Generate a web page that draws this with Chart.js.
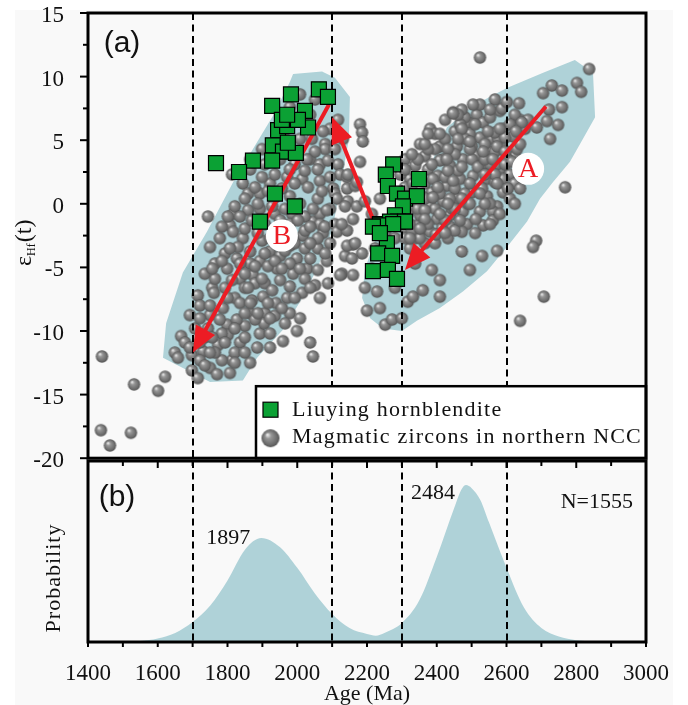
<!DOCTYPE html>
<html>
<head>
<meta charset="utf-8">
<script src="https://cdn.jsdelivr.net/npm/chart.js@4.4.1/dist/chart.umd.min.js"></script>
<style>
  html, body { margin: 0; padding: 0; background: #fff; }
  #wrap { position: relative; width: 688px; height: 705px; overflow: hidden; }
  #paper { position: absolute; left: 15px; top: 10px; width: 658px; height: 695px; background: #f9f9f9; }
  canvas { position: absolute; left: 0; }
  #top { top: 0; }
  #bot { top: 455px; }
</style>
</head>
<body>
<div id="wrap">
  <div id="paper"></div>
  <canvas id="top" width="688" height="470"></canvas>
  <canvas id="bot" width="688" height="250"></canvas>
</div>
<script>
// ── Datos ─────────────────────────────────────────────────────────────────────
const ageTicks = [1400, 1600, 1800, 2000, 2200, 2400, 2600, 2800, 3000];
const epsTicks = [-20, -15, -10, -5, 0, 5, 10, 15];
const guideAges = [1700, 2100, 2300, 2600];

// Liuying hornblendite [age, eHf(t)]
const hornblendite = [
  [2062,9.0],[2088,8.4],[1982,8.6],[1928,7.7],[2022,7.3],[2031,6.0],[1945,5.8],[1971,6.1],[1956,6.6],[2002,6.6],
  [1930,4.6],[1959,4.1],[1996,4.0],[1973,4.8],[1928,3.4],[1873,3.4],[1833,2.5],[1767,3.2],[1936,0.8],[1993,-0.2],
  [1893,-1.4],[1971,7.0],
  [2275,3.1],[2254,2.3],[2349,1.95],[2260,1.4],[2286,0.8],[2309,0.4],[2343,0.6],[2303,-0.2],[2280,-0.9],[2289,-1.4],
  [2237,-1.6],[2266,-1.4],[2309,-1.4],[2237,-1.7],[2275,-1.6],[2257,-3.1],[2232,-3.9],[2272,-4.1],[2217,-5.3],[2260,-5.2],
  [2286,-5.9],[2217,-1.8],[2237,-2.3]
];

// Magmatic zircons in northern NCC [age, eHf(t)]
const zircons = [
  [1440,-12.0],[1532,-14.2],[1601,-14.7],[1621,-13.6],[1437,-17.8],[1523,-18.0],[1463,-19.0],
  [1649,-11.7],[1658,-12.1],[1667,-10.4],
  [1750,-3.4],[1756,-6.6],[1807,-1.7],[1816,-2.2],[1844,-2.7],[1865,-3.75],[1827,-4.3],[1799,-5.1],[1836,-5.9],[1873,-5.6],
  [1893,-4.5],[1922,-3.75],[1951,-4.1],[1979,-3.3],[2016,-2.5],[2045,-1.4],[2074,-2.3],[2085,-4.5],[2028,-5.1],[1999,-4.3],[1942,-3.0],
  [1698,-11.9],[1698,-13.1],[1750,-12.9],[1770,-13.4],[1813,-12.3],[1885,-11.3],[1850,-9.6],[1959,-10.8],[1999,-10.0],[2037,-10.9],
  [2045,-12.0],[1936,-8.8],[1971,-7.4],[2014,-7.0],[2051,-6.4],[1988,-5.5],[1951,-6.0],[1942,-5.1],[1902,-7.3],[1870,-7.6],
  [1715,-7.2],[1721,-8.0],[1692,-8.75],[1750,-8.75],[1787,-8.2],[1799,-9.5],[1827,-9.1],[1744,-9.8],[1801,-10.3],[1773,-11.1],
  [1730,-11.6],[1784,-12.3],[1721,-12.3],[1750,-8.0],
  [1764,-5.9],[1793,-6.6],[1821,-7.4],[1850,-6.6],[1879,-6.25],[1907,-6.25],[1916,-4.9],[1865,-4.7],[1793,-3.9],[1899,-2.9],
  [1965,-2.1],[1993,-3.1],[2059,-3.5],[2094,-3.1],[1764,-4.7],[1735,-5.5],[1707,-9.8],[1678,-10.9],[1836,-10.9],[1893,-10.2],
  [1907,-8.6],[1865,-8.6],[1836,-7.8],[1778,-2.7],[1784,-1.8],[1816,-0.8],[1744,-1.0],
  [1813,2.3],[1844,1.6],[1893,0.8],[1936,0.5],[1979,0.6],[2059,0.4],[1821,-0.2],[1859,-0.5],[1801,-1.0],[1985,-0.8],
  [2022,-1.0],[2065,-0.8],[2059,-2.7],[2022,-3.5],[1965,-3.7],[1907,-3.9],[1830,-3.4],[1784,-4.5],[1756,-5.1],[1813,-6.0],
  [1859,-6.6],[1928,-6.8],[1979,-6.5],[2022,-5.9],[2059,-5.2],[1801,-7.4],[1761,-7.0],[1865,-7.8],[1939,-7.8],[1979,-8.6],
  [1905,-9.4],[1850,-10.5],[1778,-9.1],[1721,-9.0],[1735,-10.5],[1692,-11.3],[1764,-11.7],[1821,-11.7],[1865,-12.5],[1807,-13.3],
  [1715,-13.7],[1735,-12.7],[1922,-11.3],[1922,-10.2],[1879,-9.1],
  [1850,-1.95],[1887,-2.3],[1922,-2.7],[1985,-2.6],[2037,-3.1],[2080,-3.9],[2037,-4.3],[1979,-4.7],[1936,-4.5],[1879,-4.9],
  [1836,-4.7],[1807,-3.5],[1850,-5.5],[1899,-5.9],[1956,-5.1],[2008,-5.1],[2037,-6.6],[1993,-7.4],[1956,-8.2],[1916,-7.8],
  [1887,-8.6],[1850,-8.6],[1821,-9.8],[1784,-10.2],[1756,-10.5],[1721,-10.9],[1750,-11.7],[1793,-10.9],[1850,-11.7],[1821,-12.5],
  [2008,-9.0],[1965,-9.4],[1922,-9.0],[2065,-7.4],[2088,-6.25],
  [1907,3.1],[1951,3.5],[1993,3.1],[2037,3.5],[2080,4.7],[2117,3.1],[2103,1.2],[2065,1.8],[2014,1.95],[1971,2.1],
  [1922,1.6],[1859,0.8],[1893,-0.4],[1936,-0.8],[1979,-1.6],[2022,-2.1],[2065,-1.6],[2094,-0.4],
  [1899,4.3],[1865,3.5],[1979,4.3],[2042,5.1],[2080,4.3],[2065,3.1],[2094,5.9],[2008,8.6],[2051,8.2],
  [1979,7.6],[2008,6.6],[2037,7.0],[1965,5.1],[2008,5.1],[2074,5.7],[2051,4.1],[2028,3.5],[2088,3.4],[2108,4.3],
  [2117,6.6],[2131,5.1],[2123,2.3],
  [1865,2.7],[1899,2.1],[1936,2.3],[1979,2.7],[2022,2.6],[2059,2.7],[2094,2.1],[1879,1.3],[1916,1.0],[1956,1.2],
  [1993,1.6],[2031,1.3],[2071,1.0],[2108,0.8],[1850,0.4],[1887,0.0],[1928,-0.2],[1965,-0.4],[2008,0.0],[2045,-0.4],
  [2085,-0.5],[1836,-1.0],[1870,-1.3],[1907,-1.6],[1951,-1.3],[2002,-1.3],[2037,-1.8],[2079,-1.8],[2108,-1.6],
  [2180,6.25],[2186,5.6],[2188,4.9],[2180,3.3],[2143,2.1],[2143,1.2],[2166,1.4],[2145,0.2],[2171,-0.2],[2194,0.2],
  [2114,0.4],[2137,-0.2],[2160,-1.2],[2114,-2.2],[2143,-2.1],[2160,-3.2],[2137,-4.1],[2186,-3.9],[2128,-5.5],[2160,-5.6],
  [2194,-6.6],[2229,-6.9],[2200,-8.4],[2237,-8.2],[2252,-9.5],[2272,-9.1],[2300,-9.0],[2317,-7.7],[2332,-7.3],[2360,-6.8],
  [2409,-7.3],[2386,-5.2],[2409,-6.0],[2495,-5.2],[2472,-3.75],[2530,-4.1],[2338,-4.7],[2438,-1.8],[2360,-2.0],[2145,2.3],
  [2171,1.7],[2128,-1.6],[2143,-3.3],[2166,-3.1],[2157,-4.3],[2123,-5.6],
  [2237,0.4],[2214,-0.8],[2252,-2.3],[2223,-3.5],[2280,-2.7],[2309,0.8],[2323,-0.4],[2309,-1.95],[2323,-3.5],[2214,-5.1],[2280,-6.6],
  [2447,7.2],[2515,7.0],[2490,6.4],[2533,6.4],[2581,7.3],[2590,5.9],[2558,5.1],[2524,5.2],[2501,4.5],[2458,4.5],
  [2452,5.7],[2409,4.5],[2418,3.5],[2366,3.75],[2338,3.0],[2375,2.7],[2403,2.2],[2438,3.0],[2475,3.5],[2515,3.75],
  [2553,4.1],[2590,4.3],[2619,5.3],[2624,3.75],[2581,2.7],[2544,1.95],[2504,2.2],[2467,1.95],[2429,1.4],[2386,0.9],
  [2358,0.6],[2381,-0.2],[2418,0.2],[2458,0.4],[2501,0.9],[2544,0.6],[2590,0.9],[2573,-0.2],[2524,-0.6],[2475,-0.6],
  [2438,-0.9],[2401,-1.2],[2360,-1.4],[2487,-1.6],[2533,-1.7],[2343,-1.7],[2352,-0.9],[2381,-2.2],[2415,-1.95],[2472,-2.2],
  [2561,-0.6],[2481,6.8],[2553,6.8],[2495,5.5],[2424,5.1],[2395,4.3],[2481,5.1],[2538,4.7],[2573,3.1],[2610,2.3],
  [2452,1.2],[2409,0.8],[2366,1.6],[2323,1.95],[2329,0.4],[2317,-0.8],[2338,-2.7],[2366,-3.1],[2395,-3.1],[2432,-2.7],
  [2576,5.1],[2567,4.1],[2630,4.3],[2590,1.95],[2567,1.7],[2561,-1.3],[2587,7.5],[2639,6.6],[2653,5.9],[2604,3.5],
  [2501,3.5],[2461,2.6],[2424,2.1],[2538,3.1],[2567,5.6],[2467,6.25],[2381,5.9],
  [2309,-2.7],[2329,-2.1],[2352,-2.7],[2375,-1.6],[2398,-2.4],[2424,-1.3],[2452,-2.1],[2444,-0.4],[2490,0.0],[2512,-1.2],
  [2553,0.0],[2610,0.4],[2624,1.6],[2596,3.1],[2639,4.7],[2662,6.6],[2624,7.0],[2567,8.2],[2524,7.8],[2472,7.4],
  [2424,6.6],[2395,5.5],[2352,4.7],[2309,3.5],[2295,2.3],[2309,1.3],[2346,1.2],[2389,1.95],[2432,2.6],[2472,2.9],
  [2518,2.9],[2553,3.1],[2567,2.3],[2530,1.2],[2481,0.8],[2438,0.4],[2395,-0.4],[2346,-0.4],[2323,-1.6],[2366,-0.5],
  [2495,4.3],[2452,3.9],[2409,3.4],[2375,4.3],[2432,4.3],[2472,5.9],[2510,6.25],[2547,5.7],[2596,5.2],[2610,6.25],
  [2573,4.5],[2538,3.5],
  [2346,3.5],[2386,3.1],[2429,3.5],[2461,5.1],[2495,4.9],[2533,4.1],[2561,3.5],[2596,4.1],[2616,3.3],[2644,2.7],
  [2624,0.0],[2639,1.2],[2332,1.6],[2366,0.4],[2403,1.3],[2447,1.8],[2495,1.6],[2538,2.3],[2573,1.6],[2604,1.2],
  [2495,0.0],[2538,0.0],[2452,-0.4],[2409,-0.8],[2366,-1.2],[2323,-2.7],[2352,-1.95],[2424,-2.3],[2467,-1.3],[2510,-2.3],
  [2553,-1.6],[2581,-0.8],[2524,0.8],[2472,0.4],[2432,0.0],[2389,0.5],[2581,5.9],[2553,7.4],[2504,7.8],[2461,7.0],
  [2409,5.5],[2366,4.7],[2329,3.9],[2309,2.7],
  [2837,10.6],[2802,9.5],[2814,8.8],[2730,9.3],[2759,8.9],[2705,8.7],[2759,7.6],[2722,7.4],[2748,6.2],[2716,6.5],
  [2725,5.1],[2687,6.0],[2636,7.9],[2601,8.0],[2644,6.4],[2627,5.7],[2768,1.3],[2685,-2.9],[2676,-3.4],[2707,-7.3],
  [2639,-9.2],[2573,-3.7],[2524,11.5],[2447,7.1],[2375,5.5]
];

// Campos sombreados
const fieldA = [
  [2796,11.3],[2848,10.3],[2854,6.8],[2819,5.1],[2782,3.3],[2733,1.7],[2696,0.4],[2659,-1.4],[2610,-3.1],[2544,-5.3],
  [2475,-6.9],[2409,-8.2],[2343,-9.2],[2300,-10.0],[2246,-9.8],[2209,-9.0],[2186,-7.4],[2194,-5.1],[2231,-2.3],[2295,0.0],
  [2352,2.0],[2389,3.5],[2429,6.0],[2504,7.7],[2601,9.1],[2705,10.3],[2796,11.3]
];
const fieldB = [
  [1988,10.2],[2071,10.4],[2108,9.9],[2151,8.4],[2148,5.1],[2123,1.2],[2100,-2.1],[2057,-5.1],[2008,-7.7],[1959,-9.9],
  [1885,-12.1],[1844,-13.9],[1750,-14.0],[1615,-12.1],[1624,-9.4],[1672,-5.4],[1741,-2.2],[1816,1.7],[1873,4.3],[1930,6.9],
  [1979,9.6],[1988,10.2]
];

// Flechas [cola, punta]
const arrows = [
  [[2713, 7.65], [2309, -5.2]],
  [[2091, 7.8], [1701, -11.7]],
  [[2280, -5.5], [2100, 6.8]]
];
const fieldLabels = ['A', 'B'];
const fieldLabelAge = [2662, 1956];
const fieldLabelEps = [2.75, -2.5];

// Curva de probabilidad
const probAge = [1400,1500,1550,1600,1650,1700,1750,1800,1850,1897,1950,2000,2050,2100,2150,2200,2225,2250,2300,2350,
                 2400,2450,2470,2484,2500,2525,2550,2600,2650,2700,2750,2800,2900,3000];
const probVal = [0,0.002,0.006,0.02,0.05,0.11,0.2,0.34,0.51,0.575,0.525,0.41,0.27,0.155,0.077,0.044,0.035,0.05,0.105,0.23,
                 0.47,0.74,0.84,0.867,0.85,0.785,0.66,0.41,0.19,0.077,0.03,0.01,0.002,0];
const peakAges = [1897, 2484];
const sampleCount = 1555;

// ── Estilos ───────────────────────────────────────────────────────────────────
const SERIF = "'Liberation Serif', 'Times New Roman', serif";
const SANS  = "'Liberation Sans', Arial, sans-serif";
const TEAL  = '#afd2d8';
const GREEN = '#0ba134';
const RED   = '#ec1c24';

function makeSphere(r) {
  const c = document.createElement('canvas');
  const s = Math.ceil(r * 2 + 2);
  c.width = c.height = s;
  const g = c.getContext('2d');
  const cx = s / 2, cy = s / 2;
  const grad = g.createRadialGradient(cx - r * 0.35, cy - r * 0.4, r * 0.05, cx, cy, r);
  grad.addColorStop(0, '#ececec');
  grad.addColorStop(0.3, '#969696');
  grad.addColorStop(0.8, '#6b6b6b');
  grad.addColorStop(1, '#525252');
  g.fillStyle = grad;
  g.beginPath(); g.arc(cx, cy, r, 0, Math.PI * 2); g.fill();
  return c;
}
const sphere = makeSphere(6.2);
const bigSphere = makeSphere(9);

const toXY = arr => arr.map(p => ({ x: p[0], y: p[1] }));

function seg(ctx, x1, y1, x2, y2) {
  ctx.beginPath(); ctx.moveTo(x1, y1); ctx.lineTo(x2, y2); ctx.stroke();
}

// sin relleno extra por etiquetas en los extremos del eje
function noEdgePad(s) {
  s.paddingTop = 0; s.paddingBottom = 0; s.paddingLeft = 0; s.paddingRight = 0;
}

function drawGuides(chart) {
  const { ctx, chartArea: a, scales: { x } } = chart;
  ctx.save();
  ctx.strokeStyle = '#000';
  ctx.lineWidth = 2;
  ctx.setLineDash([7, 4.5]);
  guideAges.forEach(v => {
    const px = Math.round(x.getPixelForValue(v));
    seg(ctx, px, a.top, px, a.bottom);
  });
  ctx.restore();
}

// ── Panel (a) ─────────────────────────────────────────────────────────────────
const topDecor = {
  id: 'topDecor',
  afterDatasetDraw(chart, args) {
    if (args.index !== 1) return;
    const { ctx, scales: { x, y } } = chart;
    drawGuides(chart);

    // flechas
    ctx.save();
    ctx.strokeStyle = RED;
    ctx.fillStyle = RED;
    ctx.lineWidth = 4;
    arrows.forEach(([t, h]) => {
      const x1 = x.getPixelForValue(t[0]), y1 = y.getPixelForValue(t[1]);
      const x2 = x.getPixelForValue(h[0]), y2 = y.getPixelForValue(h[1]);
      const ang = Math.atan2(y2 - y1, x2 - x1);
      const len = 26, half = 11;
      const bx = x2 - len * Math.cos(ang), by = y2 - len * Math.sin(ang);
      seg(ctx, x1, y1, bx + 3 * Math.cos(ang), by + 3 * Math.sin(ang));
      ctx.beginPath();
      ctx.moveTo(x2, y2);
      ctx.lineTo(bx + half * Math.sin(ang), by - half * Math.cos(ang));
      ctx.lineTo(bx - half * Math.sin(ang), by + half * Math.cos(ang));
      ctx.closePath();
      ctx.fill();
    });

    // etiquetas A / B
    fieldLabels.forEach((lab, i) => {
      const px = x.getPixelForValue(fieldLabelAge[i]), py = y.getPixelForValue(fieldLabelEps[i]);
      ctx.fillStyle = '#fff';
      ctx.beginPath(); ctx.arc(px, py, 16, 0, Math.PI * 2); ctx.fill();
      ctx.fillStyle = RED;
      ctx.font = `28px ${SERIF}`;
      ctx.textAlign = 'center';
      ctx.textBaseline = 'middle';
      ctx.fillText(lab, px, py + 1);
    });
    ctx.restore();
  },
  afterDraw(chart) {
    const { ctx, chartArea: a, scales: { y } } = chart;
    ctx.save();
    ctx.strokeStyle = '#000';

    // marcas del eje y
    ctx.lineWidth = 2;
    epsTicks.forEach((v, i) => {
      const py = y.getPixelForValue(v);
      seg(ctx, a.left - 8, py, a.left, py);
      if (i < epsTicks.length - 1) {
        const pm = y.getPixelForValue(v + 2.5);
        seg(ctx, a.left - 5, pm, a.left, pm);
      }
    });

    // leyenda
    const lx = a.left + 168, ly = a.bottom - 72;
    ctx.fillStyle = '#fff';
    ctx.fillRect(lx, ly, a.right - lx, a.bottom - ly);
    ctx.lineWidth = 2.5;
    ctx.strokeRect(lx, ly, a.right - lx, a.bottom - ly);
    const ds = chart.data.datasets;
    ctx.fillStyle = GREEN;
    ctx.lineWidth = 1.2;
    ctx.fillRect(lx + 7, ly + 16, 15, 15);
    ctx.strokeRect(lx + 7, ly + 16, 15, 15);
    ctx.drawImage(bigSphere, lx + 14.5 - bigSphere.width / 2, ly + 52 - bigSphere.height / 2);
    ctx.fillStyle = '#111';
    ctx.font = `22px ${SERIF}`;
    ctx.textAlign = 'left';
    ctx.textBaseline = 'middle';
    ctx.letterSpacing = '1.2px';
    ctx.fillText(ds[0].label, lx + 36, ly + 24);
    ctx.fillText(ds[1].label, lx + 36, ly + 51);
    ctx.letterSpacing = '0px';

    // marco
    ctx.lineWidth = 3;
    ctx.strokeRect(a.left, a.top, a.right - a.left, a.bottom - a.top);

    // (a)
    ctx.fillStyle = '#111';
    ctx.font = `30px ${SANS}`;
    ctx.textAlign = 'center';
    ctx.fillText('(a)', a.left + 34, a.top + 31);

    // titulo eje y: εHf(t)
    ctx.translate(31, 266);
    ctx.rotate(-Math.PI / 2);
    ctx.textAlign = 'left';
    ctx.textBaseline = 'alphabetic';
    ctx.font = `24px ${SERIF}`;
    ctx.fillText('ε', 0, 0);
    let w = ctx.measureText('ε').width;
    ctx.font = `12px ${SERIF}`;
    ctx.fillText('Hf', w, 4);
    w += ctx.measureText('Hf').width + 1;
    ctx.font = `24px ${SERIF}`;
    ctx.fillText('(t)', w, 0);
    ctx.restore();
  }
};

new Chart(document.getElementById('top'), {
  type: 'scatter',
  data: {
    datasets: [
      {
        label: 'Liuying hornblendite',
        data: toXY(hornblendite),
        pointStyle: 'rect',
        pointRadius: 10.6,
        backgroundColor: GREEN,
        borderColor: '#000',
        borderWidth: 1.2,
        order: 0
      },
      {
        label: 'Magmatic zircons in northern NCC',
        data: toXY(zircons),
        pointStyle: sphere,
        order: 2
      },
      {
        type: 'line',
        label: 'field A',
        data: toXY(fieldA),
        fill: 'shape',
        backgroundColor: TEAL,
        borderWidth: 0,
        pointRadius: 0,
        tension: 0,
        order: 3
      },
      {
        type: 'line',
        label: 'field B',
        data: toXY(fieldB),
        fill: 'shape',
        backgroundColor: TEAL,
        borderWidth: 0,
        pointRadius: 0,
        tension: 0,
        order: 3
      }
    ]
  },
  options: {
    responsive: false,
    animation: false,
    devicePixelRatio: 1,
    layout: { padding: { top: 13, right: 42, bottom: 9, left: 0 } },
    plugins: { legend: { display: false }, tooltip: { enabled: false } },
    scales: {
      x: { type: 'linear', min: 1400, max: 3000, display: false },
      y: {
        min: -20, max: 15,
        afterBuildTicks: s => { s.ticks = epsTicks.map(v => ({ value: v })); },
        afterFit: s => { s.width = 88; noEdgePad(s); },
        grid: { display: false },
        border: { display: false },
        ticks: { color: '#111', padding: 16, labelOffset: 3, font: { family: SERIF, size: 23 } }
      }
    }
  },
  plugins: [topDecor]
});

// ── Panel (b) ─────────────────────────────────────────────────────────────────
const botDecor = {
  id: 'botDecor',
  afterDatasetsDraw(chart) { drawGuides(chart); },
  afterDraw(chart) {
    const { ctx, chartArea: a, scales: { x, y } } = chart;
    ctx.save();
    ctx.strokeStyle = '#000';
    ctx.lineWidth = 2;
    ageTicks.forEach((v, i) => {
      const px = x.getPixelForValue(v);
      seg(ctx, px, a.top, px, a.top + 7);
      seg(ctx, px, a.bottom, px, a.bottom + 5);
      if (i < ageTicks.length - 1) {
        const pm = x.getPixelForValue(v + 100);
        seg(ctx, pm, a.top, pm, a.top + 5);
        seg(ctx, pm, a.bottom, pm, a.bottom + 5);
      }
    });
    ctx.lineWidth = 3;
    ctx.strokeRect(a.left, a.top, a.right - a.left, a.bottom - a.top);

    ctx.fillStyle = '#111';
    ctx.font = `30px ${SANS}`;
    ctx.textAlign = 'center';
    ctx.textBaseline = 'middle';
    ctx.fillText('(b)', a.left + 29, a.top + 37);

    ctx.font = `22px ${SERIF}`;
    ctx.textAlign = 'right';
    const dy = [0, 8];
    peakAges.forEach((age, i) => {
      const v = probVal[probAge.indexOf(age)];
      ctx.fillText(String(age), x.getPixelForValue(age) - 11, y.getPixelForValue(v) + dy[i]);
    });
    ctx.fillText('N=' + sampleCount, a.right - 13, a.top + 41);

    ctx.translate(60, a.top + 117);
    ctx.rotate(-Math.PI / 2);
    ctx.textAlign = 'center';
    ctx.textBaseline = 'alphabetic';
    ctx.letterSpacing = '1px';
    ctx.fillText('Probability', 0, 0);
    ctx.restore();
  }
};

new Chart(document.getElementById('bot'), {
  type: 'line',
  data: {
    datasets: [{
      label: 'Probability',
      data: probAge.map((a, i) => ({ x: a, y: probVal[i] })),
      fill: 'origin',
      backgroundColor: TEAL,
      borderWidth: 0,
      pointRadius: 0,
      cubicInterpolationMode: 'monotone'
    }]
  },
  options: {
    responsive: false,
    animation: false,
    devicePixelRatio: 1,
    layout: { padding: { top: 6, right: 42, bottom: 0, left: 0 } },
    plugins: { legend: { display: false }, tooltip: { enabled: false } },
    scales: {
      x: {
        type: 'linear', min: 1400, max: 3000,
        afterBuildTicks: s => { s.ticks = ageTicks.map(v => ({ value: v })); },
        afterFit: s => { s.height = 63; noEdgePad(s); },
        grid: { display: false },
        border: { display: false },
        ticks: { color: '#111', padding: 10, maxRotation: 0, font: { family: SERIF, size: 23 }, callback: v => String(v) },
        title: {
          display: true, text: 'Age (Ma)', color: '#111',
          padding: { top: 0, bottom: 0 },
          font: { family: SERIF, size: 22, lineHeight: 1 }
        }
      },
      y: {
        min: 0, max: 1,
        afterFit: s => { s.width = 88; noEdgePad(s); },
        grid: { display: false },
        border: { display: false },
        ticks: { display: false }
      }
    }
  },
  plugins: [botDecor]
});
</script>
</body>
</html>
